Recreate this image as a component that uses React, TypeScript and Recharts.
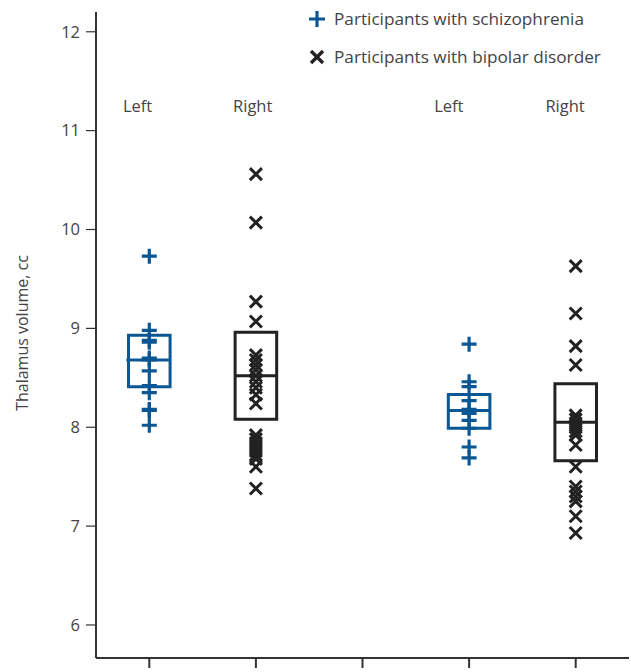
import React from 'react';
import {
  ComposedChart, Scatter, XAxis, YAxis, ReferenceArea, ReferenceLine,
} from 'recharts';

const BLUE = '#0a5794';
const BLACK = '#222222';
const AXIS = '#333333';
const TEXT = '#444444';
const FONT = '"Open Sans", "DejaVu Sans", sans-serif';

// Group positions on the x axis
const xTicks = [1, 2, 3, 4, 5];

// Individual thalamus volumes (cc)
const groupLeftSchiz = [9.73, 8.98, 8.88, 8.86, 8.70, 8.68, 8.57, 8.42, 8.35, 8.18, 8.17, 8.02];
const groupRightBipolar = [10.56, 10.07, 9.27, 9.07, 8.73, 8.68, 8.63, 8.58, 8.52, 8.46, 8.40, 8.33, 8.24, 7.92, 7.88, 7.84, 7.80, 7.76, 7.72, 7.68, 7.60, 7.38];
const groupLeftSchiz2 = [8.84, 8.46, 8.41, 8.27, 8.18, 8.14, 8.07, 7.99, 7.80, 7.69];
const groupRightBipolar2 = [9.63, 9.15, 8.82, 8.63, 8.12, 8.08, 8.04, 8.00, 7.96, 7.92, 7.82, 7.60, 7.40, 7.35, 7.30, 7.25, 7.10, 6.93];

// Box summaries: x position, lower quartile, median, upper quartile
const boxX = [1, 2, 4, 5];
const boxQ1 = [8.41, 8.08, 7.99, 7.66];
const boxMedian = [8.68, 8.52, 8.17, 8.05];
const boxQ3 = [8.93, 8.96, 8.33, 8.44];
const boxColors = [BLUE, BLACK, BLUE, BLACK];
const BOX_HALF = 0.195;

// Column labels
const labelText = ['Left', 'Right', 'Left', 'Right'];
const labelX = [0.89, 1.97, 3.81, 4.9];
const LABEL_Y = 11.25;

const yTicks = [6, 7, 8, 9, 10, 11, 12];

const legendItems = ['Participants with schizophrenia', 'Participants with bipolar disorder'];

const schizData = [
  ...groupLeftSchiz.map((y) => ({ x: 1, y })),
  ...groupLeftSchiz2.map((y) => ({ x: 4, y })),
];
const bipolarData = [
  ...groupRightBipolar.map((y) => ({ x: 2, y })),
  ...groupRightBipolar2.map((y) => ({ x: 5, y })),
];
const labelData = labelText.map((label, i) => ({ x: labelX[i], y: LABEL_Y, label }));

const PlusShape = (props: any) => {
  const { cx, cy } = props;
  const s = 7.5;
  return (
    <path
      d={`M${cx - s},${cy} H${cx + s} M${cx},${cy - s} V${cy + s}`}
      stroke={BLUE}
      strokeWidth={3.2}
      fill="none"
    />
  );
};

const CrossShape = (props: any) => {
  const { cx, cy } = props;
  const s = 6;
  return (
    <path
      d={`M${cx - s},${cy - s} L${cx + s},${cy + s} M${cx + s},${cy - s} L${cx - s},${cy + s}`}
      stroke={BLACK}
      strokeWidth={3}
      fill="none"
    />
  );
};

const LabelShape = (props: any) => {
  const { cx, cy, payload } = props;
  return (
    <text x={cx} y={cy} textAnchor="middle" dominantBaseline="central" fontSize={16.5} fill={TEXT} fontFamily={FONT}>
      {payload.label}
    </text>
  );
};

const YLabel = () => (
  <text
    x={22}
    y={333}
    transform="rotate(-90 22 333)"
    textAnchor="middle"
    dominantBaseline="central"
    fontSize={16}
    fill={TEXT}
    fontFamily={FONT}
  >
    Thalamus volume, cc
  </text>
);

export default function App() {
  return (
    <div style={{ position: 'absolute', left: 0, top: 0, width: 631, height: 672, background: '#fff' }}>
      <ComposedChart
        width={631}
        height={672}
        margin={{ top: 12, right: 2, bottom: 0, left: 0 }}
        style={{ fontFamily: FONT }}
      >
        <XAxis
          type="number"
          dataKey="x"
          domain={[0.5, 5.5]}
          ticks={xTicks}
          tickFormatter={() => ''}
          tickSize={10}
          height={14}
          axisLine={{ stroke: AXIS, strokeWidth: 2 }}
          tickLine={{ stroke: AXIS, strokeWidth: 2 }}
          allowDataOverflow
        />
        <YAxis
          type="number"
          dataKey="y"
          domain={[5.666, 12.2]}
          ticks={yTicks}
          width={96}
          tickSize={10}
          tickMargin={6}
          tick={{ fontSize: 16.5, fill: TEXT, fontFamily: FONT }}
          axisLine={{ stroke: AXIS, strokeWidth: 2 }}
          tickLine={{ stroke: AXIS, strokeWidth: 1.2 }}
          allowDataOverflow
          label={<YLabel />}
        />
        {boxX.map((x, i) => (
          <ReferenceArea
            key={`box-${i}`}
            x1={x - BOX_HALF}
            x2={x + BOX_HALF}
            y1={boxQ1[i]}
            y2={boxQ3[i]}
            fill="none"
            fillOpacity={0}
            stroke={boxColors[i]}
            strokeWidth={3}
          />
        ))}
        {boxX.map((x, i) => (
          <ReferenceLine
            key={`med-${i}`}
            segment={[{ x: x - BOX_HALF - (i === 0 ? 0.02 : 0), y: boxMedian[i] }, { x: x + BOX_HALF, y: boxMedian[i] }]}
            stroke={boxColors[i]}
            strokeWidth={3}
          />
        ))}
        <Scatter data={bipolarData} shape={<CrossShape />} isAnimationActive={false} />
        <Scatter data={schizData} shape={<PlusShape />} isAnimationActive={false} />
        <Scatter data={labelData} shape={<LabelShape />} isAnimationActive={false} />
      </ComposedChart>
      <div
        style={{
          position: 'absolute', top: 8, left: 307, fontFamily: FONT, fontSize: 17.2, color: TEXT, lineHeight: '22px',
        }}
      >
        {legendItems.map((item, i) => (
          <div key={item} style={{ display: 'flex', alignItems: 'center', height: 22, marginBottom: i === 0 ? 16 : 0 }}>
            <svg width={20} height={20} style={{ marginRight: 7 }}>
              {i === 0 ? (
                <path d="M2,10 H18 M10,2 V18" stroke={BLUE} strokeWidth={3.2} />
              ) : (
                <path d="M4,4 L16,16 M16,4 L4,16" stroke={BLACK} strokeWidth={3.4} />
              )}
            </svg>
            <span>{item}</span>
          </div>
        ))}
      </div>
    </div>
  );
}
